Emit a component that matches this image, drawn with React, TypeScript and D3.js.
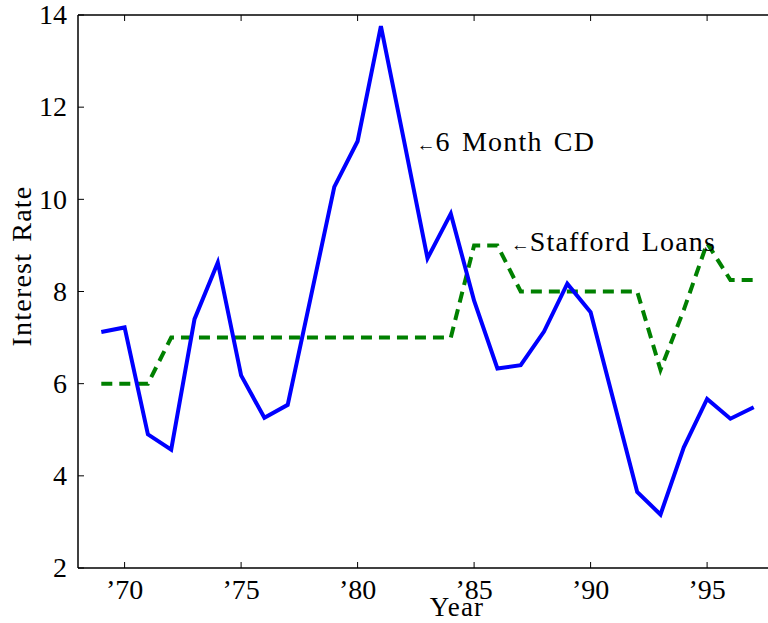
import React, { useEffect } from 'react';
import * as d3 from 'd3';

// Data
const years = [1969, 1970, 1971, 1972, 1973, 1974, 1975, 1976, 1977, 1978, 1979, 1980, 1981, 1982, 1983,
  1984, 1985, 1986, 1987, 1988, 1989, 1990, 1991, 1992, 1993, 1994, 1995, 1996, 1997];
const cdRates = [7.12, 7.22, 4.9, 4.57, 7.4, 8.63, 6.18, 5.26, 5.54, 7.9, 10.27, 11.26, 13.76, 11.25, 8.72,
  9.69, 7.8, 6.33, 6.4, 7.13, 8.17, 7.55, 5.6, 3.65, 3.16, 4.62, 5.67, 5.24, 5.49];
const staffordRates = [6, 6, 6, 7, 7, 7, 7, 7, 7, 7, 7, 7, 7, 7, 7,
  7, 9, 9, 8, 8, 8, 8, 8, 8, 6.3, 7.6, 9.05, 8.25, 8.25];
const xTicks = [1970, 1975, 1980, 1985, 1990, 1995];
const xTickLabels = ['\u201970', '\u201975', '\u201980', '\u201985', '\u201990', '\u201995'];
const yTicks = [2, 4, 6, 8, 10, 12, 14];
const annotations = [
  { label: '6 Month CD', year: 1982.53, rate: 11.27 },
  { label: 'Stafford Loans', year: 1986.57, rate: 9.1 },
];

const W = 768;
const H = 623;
const margin = { left: 78, top: 15, right: -9, bottom: 55 };
const FONT = '"Liberation Serif", "DejaVu Serif", serif';
const FS = 28;
// wider spacing to approach the Computer Modern look of the original
const LS = 1.2;
const WS = 3;

export default function App() {
  useEffect(() => {
    document.body.style.margin = '0';
  }, []);

  const x = d3.scaleLinear().domain([1968, 1998]).range([margin.left, W - margin.right]);
  const y = d3.scaleLinear().domain([2, 14]).range([H - margin.bottom, margin.top]);

  const line = d3.line<number>()
    .x((_, i) => x(years[i]))
    .y(d => y(d));

  const x0 = x.range()[0];
  const x1 = x.range()[1];
  const y0 = y.range()[0];
  const y1 = y.range()[1];
  const tick = 6;

  return (
    <svg width={W} height={H} style={{ display: 'block', background: '#fff' }} fontFamily={FONT}>
      {/* frame */}
      <g stroke="#000" strokeWidth={1.5} fill="none">
        <line x1={x0} x2={x1} y1={y0} y2={y0} />
        <line x1={x0} x2={x1} y1={y1} y2={y1} />
        <line x1={x0} x2={x0} y1={y0} y2={y1} />
        <line x1={x1} x2={x1} y1={y0} y2={y1} />
      </g>

      {/* x ticks */}
      {xTicks.map((t, i) => (
        <g key={t}>
          <line x1={x(t)} x2={x(t)} y1={y0} y2={y0 - tick} stroke="#000" strokeWidth={1} />
          <line x1={x(t)} x2={x(t)} y1={y1} y2={y1 + tick} stroke="#000" strokeWidth={1} />
          <text x={x(t)} y={y0 + 31} textAnchor="middle" fontSize={FS} fill="#000">{xTickLabels[i]}</text>
        </g>
      ))}

      {/* y ticks */}
      {yTicks.map(t => (
        <g key={t}>
          <line x1={x0} x2={x0 + tick} y1={y(t)} y2={y(t)} stroke="#000" strokeWidth={1} />
          <text x={x0 - 11} y={y(t)} dy="0.33em" textAnchor="end" fontSize={FS} fill="#000">{t}</text>
        </g>
      ))}

      {/* axis titles */}
      <text x={457} y={616} textAnchor="middle" fontSize={27} letterSpacing={LS} fill="#000">Year</text>
      <text transform="translate(31,266) rotate(-90)" textAnchor="middle" fontSize={FS}
        letterSpacing={LS} wordSpacing={WS} fill="#000">
        Interest Rate
      </text>

      {/* series */}
      <path d={line(staffordRates) || ''} fill="none" stroke="#008000" strokeWidth={4} strokeDasharray="11,7" />
      <path d={line(cdRates) || ''} fill="none" stroke="#0000ff" strokeWidth={4} strokeLinejoin="miter" />

      {/* annotations */}
      {annotations.map(a => (
        <text key={a.label} x={x(a.year)} y={y(a.rate)} dy="0.35em" fontSize={FS}
          letterSpacing={LS} wordSpacing={WS} fill="#000">
          <tspan fontSize={19} letterSpacing={0}>{'\u2190'}</tspan>{a.label}
        </text>
      ))}
    </svg>
  );
}
